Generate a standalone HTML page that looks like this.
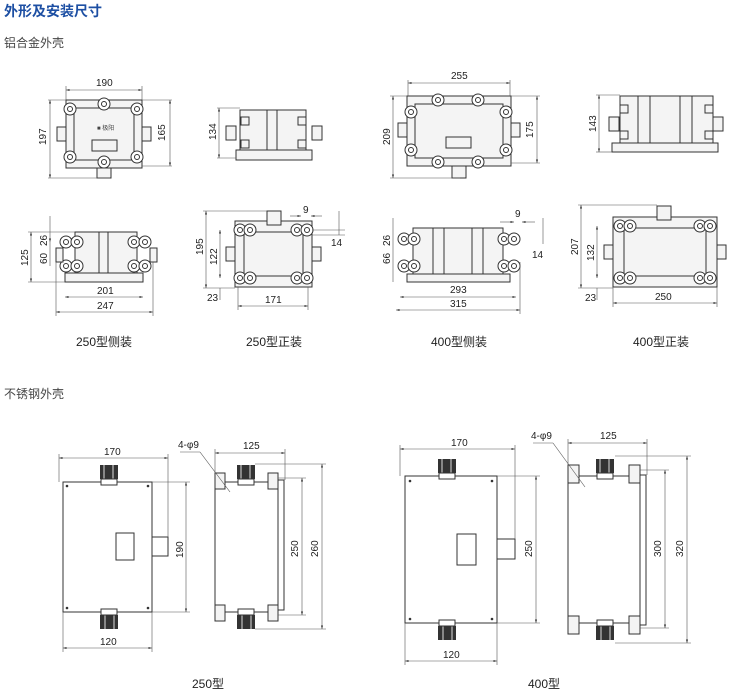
<!DOCTYPE html>
<html><head><meta charset="utf-8"><style>
body{margin:0;background:#fff;width:730px;height:689px;overflow:hidden}
svg{display:block}
text{font-family:"Liberation Sans","Noto Sans CJK SC",sans-serif;fill:#222}
.l{stroke:#333;stroke-width:1;fill:none}
.t{stroke:#555;stroke-width:.6;fill:none}
.f{fill:#f4f4f4;stroke:#333;stroke-width:1}
.d{font-size:10px}
</style></head><body>
<svg width="730" height="689" viewBox="0 0 730 689">
<defs>
<marker id="a" viewBox="0 0 10 10" refX="10" refY="5" markerWidth="6" markerHeight="6" orient="auto-start-reverse"><path d="M0,2L10,5L0,8z" fill="#333"/></marker>
<g id="bolt"><circle r="6" fill="#fff" stroke="#333"/><circle r="2.5" fill="none" stroke="#333"/></g>
<g id="gland"><rect x="-9" y="-8" width="18" height="14" fill="#333"/><rect x="-6" y="-8" width="2" height="14" fill="#888"/><rect x="3" y="-8" width="2" height="14" fill="#888"/><rect x="-8" y="6" width="16" height="6" fill="#fff" stroke="#333"/></g>
</defs>
<text x="4" y="16" style="font-size:14px;font-weight:bold;fill:#1d4fa3">外形及安装尺寸</text>
<text x="4" y="47" style="font-size:12px;fill:#444">铝合金外壳</text>
<text x="4" y="398" style="font-size:12px;fill:#444">不锈钢外壳</text>

<!-- D1 -->
<rect x="66" y="100" width="76" height="68" class="f"/>
<rect x="74" y="108" width="60" height="52" class="l"/>
<use href="#bolt" x="70" y="109"/><use href="#bolt" x="104" y="104"/><use href="#bolt" x="137" y="109"/>
<use href="#bolt" x="70" y="157"/><use href="#bolt" x="104" y="162"/><use href="#bolt" x="137" y="157"/>
<rect x="57" y="127" width="9" height="14" class="f"/><rect x="142" y="127" width="9" height="14" class="f"/>
<rect x="97" y="168" width="14" height="10" class="f"/>
<rect x="92" y="140" width="25" height="11" class="l"/>
<text x="97" y="130" style="font-size:6px;fill:#444">■ 极阳</text>
<line x1="66" y1="90" x2="142" y2="90" class="t" marker-start="url(#a)" marker-end="url(#a)"/>
<line x1="66" y1="86" x2="66" y2="100" class="t"/><line x1="142" y1="86" x2="142" y2="100" class="t"/>
<text x="96" y="86" class="d">190</text>
<line x1="50" y1="100" x2="50" y2="178" class="t" marker-start="url(#a)" marker-end="url(#a)"/>
<line x1="48" y1="178" x2="110" y2="178" class="t"/><line x1="48" y1="100" x2="66" y2="100" class="t"/>
<text transform="translate(46,145) rotate(-90)" class="d">197</text>
<line x1="170" y1="100" x2="170" y2="166" class="t" marker-start="url(#a)" marker-end="url(#a)"/>
<line x1="142" y1="166" x2="172" y2="166" class="t"/><line x1="142" y1="100" x2="172" y2="100" class="t"/>
<text transform="translate(165,141) rotate(-90)" class="d">165</text>

<!-- D2 -->
<rect x="240" y="110" width="66" height="44" class="f"/>
<line x1="267" y1="110" x2="267" y2="154" class="l"/><line x1="277" y1="110" x2="277" y2="154" class="l"/>
<rect x="236" y="150" width="76" height="10" class="f"/>
<rect x="241" y="117" width="8" height="8" class="f"/><rect x="241" y="140" width="8" height="8" class="f"/>
<rect x="298" y="117" width="8" height="8" class="f"/><rect x="298" y="140" width="8" height="8" class="f"/>
<rect x="226" y="126" width="10" height="14" class="f"/><rect x="312" y="126" width="10" height="14" class="f"/>
<line x1="219" y1="108" x2="219" y2="158" class="t" marker-start="url(#a)" marker-end="url(#a)"/>
<line x1="217" y1="108" x2="240" y2="108" class="t"/><line x1="217" y1="158" x2="236" y2="158" class="t"/>
<text transform="translate(216,140) rotate(-90)" class="d">134</text>

<!-- D3 -->
<rect x="407" y="96" width="104" height="70" class="f"/>
<rect x="415" y="104" width="88" height="54" class="l"/>
<use href="#bolt" x="411" y="112"/><use href="#bolt" x="438" y="100"/><use href="#bolt" x="478" y="100"/><use href="#bolt" x="506" y="112"/>
<use href="#bolt" x="411" y="150"/><use href="#bolt" x="438" y="162"/><use href="#bolt" x="478" y="162"/><use href="#bolt" x="506" y="150"/>
<rect x="398" y="123" width="9" height="14" class="f"/><rect x="511" y="123" width="9" height="14" class="f"/>
<rect x="452" y="166" width="14" height="12" class="f"/>
<rect x="446" y="137" width="25" height="11" class="l"/>
<line x1="408" y1="83" x2="510" y2="83" class="t" marker-start="url(#a)" marker-end="url(#a)"/>
<line x1="408" y1="80" x2="408" y2="96" class="t"/><line x1="510" y1="80" x2="510" y2="96" class="t"/>
<text x="451" y="79" class="d">255</text>
<line x1="393" y1="96" x2="393" y2="178" class="t" marker-start="url(#a)" marker-end="url(#a)"/>
<line x1="390" y1="96" x2="407" y2="96" class="t"/><line x1="390" y1="178" x2="460" y2="178" class="t"/>
<text transform="translate(390,145) rotate(-90)" class="d">209</text>
<line x1="537" y1="96" x2="537" y2="163" class="t" marker-start="url(#a)" marker-end="url(#a)"/>
<line x1="511" y1="96" x2="540" y2="96" class="t"/><line x1="511" y1="163" x2="540" y2="163" class="t"/>
<text transform="translate(533,138) rotate(-90)" class="d">175</text>

<!-- D4 -->
<rect x="620" y="96" width="93" height="50" class="f"/>
<line x1="638" y1="96" x2="638" y2="146" class="l"/><line x1="650" y1="96" x2="650" y2="146" class="l"/>
<line x1="680" y1="96" x2="680" y2="146" class="l"/><line x1="692" y1="96" x2="692" y2="146" class="l"/>
<rect x="612" y="143" width="106" height="9" class="f"/>
<rect x="620" y="105" width="8" height="8" class="f"/><rect x="620" y="131" width="8" height="8" class="f"/>
<rect x="705" y="105" width="8" height="8" class="f"/><rect x="705" y="131" width="8" height="8" class="f"/>
<rect x="609" y="117" width="10" height="14" class="f"/><rect x="713" y="117" width="10" height="14" class="f"/>
<line x1="599" y1="95" x2="599" y2="152" class="t" marker-start="url(#a)" marker-end="url(#a)"/>
<line x1="596" y1="95" x2="620" y2="95" class="t"/><line x1="596" y1="152" x2="612" y2="152" class="t"/>
<text transform="translate(596,132) rotate(-90)" class="d">143</text>

<!-- D5 -->
<rect x="75" y="232" width="62" height="42" class="f"/>
<line x1="99" y1="232" x2="99" y2="274" class="l"/><line x1="108" y1="232" x2="108" y2="274" class="l"/>
<rect x="65" y="273" width="78" height="9" class="f"/>
<use href="#bolt" x="66" y="242"/><use href="#bolt" x="77" y="242"/><use href="#bolt" x="66" y="266"/><use href="#bolt" x="77" y="266"/>
<use href="#bolt" x="134" y="242"/><use href="#bolt" x="145" y="242"/><use href="#bolt" x="134" y="266"/><use href="#bolt" x="145" y="266"/>
<rect x="56" y="248" width="7" height="14" class="f"/><rect x="150" y="248" width="7" height="14" class="f"/>
<line x1="31" y1="232" x2="31" y2="282" class="t" marker-start="url(#a)" marker-end="url(#a)"/>
<line x1="28" y1="232" x2="75" y2="232" class="t"/><line x1="28" y1="282" x2="65" y2="282" class="t"/>
<text transform="translate(28,266) rotate(-90)" class="d">125</text>
<line x1="50" y1="216" x2="50" y2="242" class="t" marker-end="url(#a)"/><line x1="50" y1="242" x2="50" y2="266" class="t"/>
<text transform="translate(47,246) rotate(-90)" class="d">26</text><text transform="translate(47,264) rotate(-90)" class="d">60</text>
<line x1="65" y1="297" x2="143" y2="297" class="t" marker-start="url(#a)" marker-end="url(#a)"/>
<text x="97" y="294" class="d">201</text>
<line x1="56" y1="312" x2="153" y2="312" class="t" marker-start="url(#a)" marker-end="url(#a)"/>
<line x1="56" y1="262" x2="56" y2="316" class="t"/><line x1="153" y1="262" x2="153" y2="316" class="t"/>
<text x="97" y="309" class="d">247</text>

<!-- D6 -->
<rect x="235" y="221" width="77" height="66" class="f"/>
<rect x="244" y="232" width="59" height="44" class="l"/>
<use href="#bolt" x="240" y="230"/><use href="#bolt" x="250" y="230"/><use href="#bolt" x="297" y="230"/><use href="#bolt" x="307" y="230"/>
<use href="#bolt" x="240" y="278"/><use href="#bolt" x="250" y="278"/><use href="#bolt" x="297" y="278"/><use href="#bolt" x="307" y="278"/>
<rect x="267" y="211" width="14" height="14" class="f"/>
<rect x="226" y="247" width="9" height="14" class="f"/><rect x="312" y="247" width="9" height="14" class="f"/>
<line x1="206" y1="211" x2="206" y2="288" class="t" marker-start="url(#a)" marker-end="url(#a)"/>
<line x1="203" y1="211" x2="267" y2="211" class="t"/><line x1="203" y1="288" x2="235" y2="288" class="t"/>
<text transform="translate(203,255) rotate(-90)" class="d">195</text>
<line x1="220" y1="230" x2="220" y2="278" class="t" marker-start="url(#a)" marker-end="url(#a)"/>
<text transform="translate(217,265) rotate(-90)" class="d">122</text>
<line x1="220" y1="288" x2="220" y2="300" class="t"/><text x="207" y="301" class="d">23</text>
<line x1="238" y1="306" x2="308" y2="306" class="t" marker-start="url(#a)" marker-end="url(#a)"/>
<line x1="238" y1="287" x2="238" y2="310" class="t"/><line x1="308" y1="287" x2="308" y2="310" class="t"/>
<text x="265" y="303" class="d">171</text>
<text x="303" y="213" class="d">9</text>
<line x1="290" y1="216" x2="301" y2="216" class="t" marker-end="url(#a)"/><line x1="322" y1="216" x2="311" y2="216" class="t" marker-end="url(#a)"/>
<line x1="339" y1="211" x2="339" y2="235" class="t"/><line x1="312" y1="230" x2="345" y2="230" class="t"/><line x1="312" y1="235" x2="345" y2="235" class="t"/>
<text x="331" y="246" class="d">14</text>

<!-- D7 -->
<rect x="413" y="228" width="90" height="47" class="f"/>
<line x1="433" y1="228" x2="433" y2="275" class="l"/><line x1="444" y1="228" x2="444" y2="275" class="l"/>
<line x1="472" y1="228" x2="472" y2="275" class="l"/><line x1="483" y1="228" x2="483" y2="275" class="l"/>
<rect x="407" y="274" width="103" height="8" class="f"/>
<use href="#bolt" x="404" y="239"/><use href="#bolt" x="414" y="239"/><use href="#bolt" x="404" y="266"/><use href="#bolt" x="414" y="266"/>
<use href="#bolt" x="504" y="239"/><use href="#bolt" x="514" y="239"/><use href="#bolt" x="504" y="266"/><use href="#bolt" x="514" y="266"/>
<line x1="393" y1="218" x2="393" y2="282" class="t"/>
<text transform="translate(390,246) rotate(-90)" class="d">26</text><text transform="translate(390,264) rotate(-90)" class="d">66</text>
<line x1="400" y1="297" x2="516" y2="297" class="t" marker-start="url(#a)" marker-end="url(#a)"/>
<text x="450" y="293" class="d">293</text>
<line x1="396" y1="310" x2="520" y2="310" class="t" marker-start="url(#a)" marker-end="url(#a)"/>
<line x1="520" y1="262" x2="520" y2="314" class="t"/>
<text x="450" y="307" class="d">315</text>
<text x="515" y="217" class="d">9</text>
<line x1="500" y1="222" x2="514" y2="222" class="t" marker-end="url(#a)"/><line x1="535" y1="222" x2="522" y2="222" class="t" marker-end="url(#a)"/>
<line x1="543" y1="218" x2="543" y2="244" class="t"/>
<text x="532" y="258" class="d">14</text>

<!-- D8 -->
<rect x="613" y="217" width="104" height="70" class="f"/>
<rect x="624" y="228" width="82" height="48" class="l"/>
<use href="#bolt" x="620" y="226"/><use href="#bolt" x="630" y="226"/><use href="#bolt" x="700" y="226"/><use href="#bolt" x="710" y="226"/>
<use href="#bolt" x="620" y="278"/><use href="#bolt" x="630" y="278"/><use href="#bolt" x="700" y="278"/><use href="#bolt" x="710" y="278"/>
<rect x="657" y="206" width="14" height="14" class="f"/>
<rect x="604" y="245" width="9" height="14" class="f"/><rect x="717" y="245" width="9" height="14" class="f"/>
<line x1="581" y1="205" x2="581" y2="288" class="t" marker-start="url(#a)" marker-end="url(#a)"/>
<line x1="578" y1="205" x2="657" y2="205" class="t"/><line x1="578" y1="288" x2="613" y2="288" class="t"/>
<text transform="translate(578,255) rotate(-90)" class="d">207</text>
<line x1="597" y1="226" x2="597" y2="278" class="t" marker-start="url(#a)" marker-end="url(#a)"/>
<text transform="translate(594,261) rotate(-90)" class="d">132</text>
<line x1="597" y1="288" x2="597" y2="300" class="t"/><text x="585" y="301" class="d">23</text>
<line x1="613" y1="303" x2="717" y2="303" class="t" marker-start="url(#a)" marker-end="url(#a)"/>
<line x1="613" y1="287" x2="613" y2="307" class="t"/><line x1="717" y1="287" x2="717" y2="307" class="t"/>
<text x="655" y="300" class="d">250</text>

<g style="font-size:12px">
<text x="76" y="346">250型侧装</text><text x="246" y="346">250型正装</text>
<text x="431" y="346">400型侧装</text><text x="633" y="346">400型正装</text>
<text x="192" y="688">250型</text><text x="528" y="688">400型</text>
</g>

<!-- B1 250 front -->
<rect x="63" y="482" width="89" height="130" class="l"/>
<circle cx="67" cy="486" r="1.3" fill="#333"/><circle cx="148" cy="486" r="1.3" fill="#333"/><circle cx="67" cy="608" r="1.3" fill="#333"/><circle cx="148" cy="608" r="1.3" fill="#333"/>
<rect x="116" y="533" width="18" height="27" class="l"/>
<rect x="152" y="537" width="16" height="19" class="l"/>
<use href="#gland" x="109" y="473"/><use href="#gland" x="109" y="621" transform="rotate(180 109 621)"/>
<line x1="59" y1="458" x2="168" y2="458" class="t" marker-start="url(#a)" marker-end="url(#a)"/>
<line x1="59" y1="454" x2="59" y2="482" class="t"/><line x1="168" y1="454" x2="168" y2="537" class="t"/>
<text x="104" y="455" class="d">170</text>
<line x1="186" y1="482" x2="186" y2="612" class="t" marker-start="url(#a)" marker-end="url(#a)"/>
<line x1="152" y1="482" x2="190" y2="482" class="t"/><line x1="152" y1="612" x2="190" y2="612" class="t"/>
<text transform="translate(183,558) rotate(-90)" class="d">190</text>
<line x1="63" y1="648" x2="152" y2="648" class="t" marker-start="url(#a)" marker-end="url(#a)"/>
<line x1="63" y1="612" x2="63" y2="652" class="t"/><line x1="152" y1="612" x2="152" y2="652" class="t"/>
<text x="100" y="645" class="d">120</text>

<!-- B2 250 side -->
<rect x="215" y="482" width="63" height="130" class="l"/>
<rect x="215" y="473" width="10" height="16" class="f"/><rect x="215" y="605" width="10" height="16" class="f"/>
<rect x="268" y="473" width="10" height="16" class="f"/><rect x="268" y="605" width="10" height="16" class="f"/>
<rect x="278" y="480" width="6" height="130" class="l"/>
<use href="#gland" x="246" y="473"/><use href="#gland" x="246" y="621" transform="rotate(180 246 621)"/>
<text x="178" y="448" class="d">4-φ9</text><line x1="180" y1="452" x2="200" y2="452" class="t"/><line x1="200" y1="452" x2="230" y2="492" class="t"/>
<line x1="215" y1="453" x2="285" y2="453" class="t" marker-start="url(#a)" marker-end="url(#a)"/>
<line x1="215" y1="449" x2="215" y2="473" class="t"/><line x1="285" y1="449" x2="285" y2="480" class="t"/>
<text x="243" y="449" class="d">125</text>
<line x1="302" y1="478" x2="302" y2="615" class="t" marker-start="url(#a)" marker-end="url(#a)"/>
<line x1="278" y1="478" x2="306" y2="478" class="t"/><line x1="278" y1="615" x2="306" y2="615" class="t"/>
<text transform="translate(298,557) rotate(-90)" class="d">250</text>
<line x1="322" y1="464" x2="322" y2="629" class="t" marker-start="url(#a)" marker-end="url(#a)"/>
<line x1="255" y1="464" x2="326" y2="464" class="t"/><line x1="255" y1="629" x2="326" y2="629" class="t"/>
<text transform="translate(318,557) rotate(-90)" class="d">260</text>

<!-- B3 400 front -->
<rect x="405" y="476" width="92" height="147" class="l"/>
<circle cx="410" cy="481" r="1.3" fill="#333"/><circle cx="492" cy="481" r="1.3" fill="#333"/><circle cx="410" cy="619" r="1.3" fill="#333"/><circle cx="492" cy="619" r="1.3" fill="#333"/>
<rect x="457" y="534" width="19" height="31" class="l"/>
<rect x="497" y="539" width="18" height="20" class="l"/>
<use href="#gland" x="447" y="467"/><use href="#gland" x="447" y="632" transform="rotate(180 447 632)"/>
<line x1="400" y1="449" x2="515" y2="449" class="t" marker-start="url(#a)" marker-end="url(#a)"/>
<line x1="400" y1="445" x2="400" y2="476" class="t"/><line x1="515" y1="445" x2="515" y2="539" class="t"/>
<text x="451" y="446" class="d">170</text>
<line x1="536" y1="476" x2="536" y2="623" class="t" marker-start="url(#a)" marker-end="url(#a)"/>
<line x1="497" y1="476" x2="540" y2="476" class="t"/><line x1="497" y1="623" x2="540" y2="623" class="t"/>
<text transform="translate(532,557) rotate(-90)" class="d">250</text>
<line x1="405" y1="661" x2="497" y2="661" class="t" marker-start="url(#a)" marker-end="url(#a)"/>
<line x1="405" y1="623" x2="405" y2="665" class="t"/><line x1="497" y1="623" x2="497" y2="665" class="t"/>
<text x="443" y="658" class="d">120</text>

<!-- B4 400 side -->
<rect x="568" y="476" width="72" height="147" class="l"/>
<rect x="568" y="465" width="11" height="18" class="f"/><rect x="568" y="616" width="11" height="18" class="f"/>
<rect x="629" y="465" width="11" height="18" class="f"/><rect x="629" y="616" width="11" height="18" class="f"/>
<rect x="640" y="475" width="6" height="150" class="l"/>
<use href="#gland" x="605" y="467"/><use href="#gland" x="605" y="632" transform="rotate(180 605 632)"/>
<text x="531" y="439" class="d">4-φ9</text><line x1="533" y1="443" x2="553" y2="443" class="t"/><line x1="553" y1="443" x2="585" y2="487" class="t"/>
<line x1="568" y1="443" x2="647" y2="443" class="t" marker-start="url(#a)" marker-end="url(#a)"/>
<line x1="568" y1="439" x2="568" y2="465" class="t"/><line x1="647" y1="439" x2="647" y2="475" class="t"/>
<text x="600" y="439" class="d">125</text>
<line x1="665" y1="470" x2="665" y2="628" class="t" marker-start="url(#a)" marker-end="url(#a)"/>
<line x1="640" y1="470" x2="669" y2="470" class="t"/><line x1="640" y1="628" x2="669" y2="628" class="t"/>
<text transform="translate(661,557) rotate(-90)" class="d">300</text>
<line x1="687" y1="456" x2="687" y2="643" class="t" marker-start="url(#a)" marker-end="url(#a)"/>
<line x1="615" y1="456" x2="691" y2="456" class="t"/><line x1="615" y1="643" x2="691" y2="643" class="t"/>
<text transform="translate(683,557) rotate(-90)" class="d">320</text>
</svg>
</body></html>
